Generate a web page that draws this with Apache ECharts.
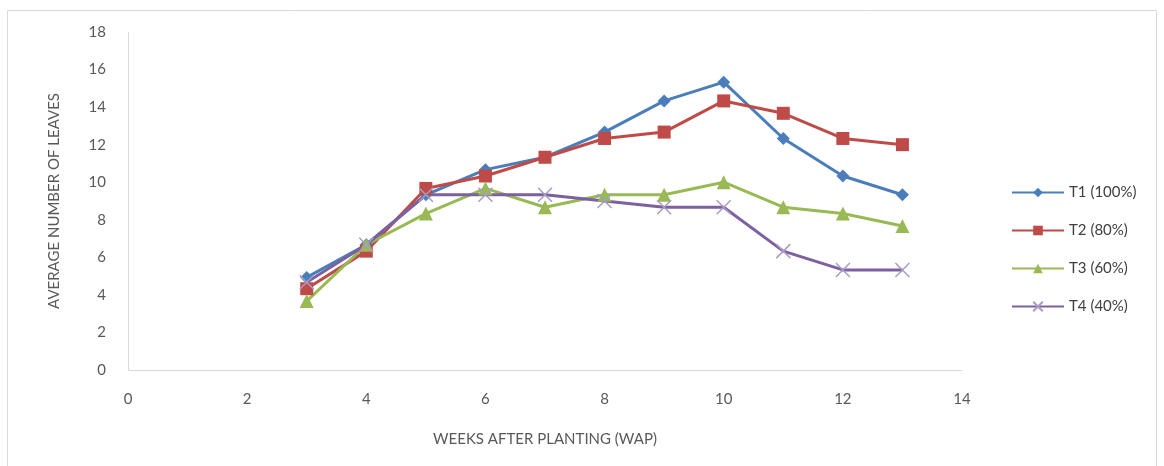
<!DOCTYPE html>
<html><head><meta charset="utf-8">
<script src="https://cdn.jsdelivr.net/npm/echarts@6/dist/echarts.min.js"></script>
<style>html,body{margin:0;padding:0;background:#fff}#c{width:1164px;height:466px}</style>
</head><body><div id="c"></div>
<script>
var weeks = [3,4,5,6,7,8,9,10,11,12,13];
var t1 = [4.93,6.67,9.33,10.67,11.33,12.67,14.33,15.33,12.33,10.33,9.33];
var t2 = [4.33,6.33,9.67,10.33,11.33,12.33,12.67,14.33,13.67,12.33,12.0];
var t3 = [3.67,6.67,8.33,9.67,8.67,9.33,9.33,10.0,8.67,8.33,7.67];
var t4 = [4.67,6.67,9.33,9.33,9.33,9.0,8.67,8.67,6.33,5.33,5.33];
var names = ['T1 (100%)','T2 (80%)','T3 (60%)','T4 (40%)'];
var xTitle = 'WEEKS AFTER PLANTING (WAP)';
var yTitle = 'AVERAGE NUMBER OF LEAVES';

function pairs(v){ return weeks.map(function(w,i){return [w,v[i]];}); }
var font = 'Lato';
var chart = echarts.init(document.getElementById('c'));
var xPath = 'path://M0,0L10,10M10,0L0,10';
chart.setOption({
  animation:false,
  backgroundColor:'#fff',
  graphic:[{type:'rect',shape:{x:7.5,y:10.5,width:1149,height:470},style:{fill:'none',stroke:'#d9d9d9',lineWidth:1}}],
  grid:{left:128,right:202,top:32,bottom:96},
  legend:{orient:'vertical',left:1006,top:180,itemWidth:52,itemHeight:12,itemGap:23,
    textStyle:{fontFamily:font,fontSize:15,color:'#404040'},data:names},
  xAxis:{type:'value',min:0,max:14,interval:2,
    axisLine:{lineStyle:{color:'#d9d9d9'}},axisTick:{show:false},splitLine:{show:false},
    axisLabel:{color:'#595959',fontFamily:font,fontSize:15,margin:22},
    name:xTitle,nameLocation:'middle',nameGap:62,nameTextStyle:{color:'#595959',fontFamily:font,fontSize:15}},
  yAxis:{type:'value',min:0,max:18,interval:2,
    axisLine:{show:true,lineStyle:{color:'#d9d9d9'}},axisTick:{show:false},splitLine:{show:false},
    axisLabel:{color:'#595959',fontFamily:font,fontSize:15,margin:22},
    name:yTitle,nameLocation:'middle',nameGap:66,nameTextStyle:{color:'#595959',fontFamily:font,fontSize:15}},
  series:[
    {name:names[0],type:'line',data:pairs(t1),symbol:'diamond',symbolSize:13,
      lineStyle:{color:'#4a7ebb',width:3},itemStyle:{color:'#4a7ebb'}},
    {name:names[1],type:'line',data:pairs(t2),symbol:'rect',symbolSize:13,
      lineStyle:{color:'#be4b48',width:3},itemStyle:{color:'#be4b48'}},
    {name:names[2],type:'line',data:pairs(t3),symbol:'triangle',symbolSize:14,
      lineStyle:{color:'#98b954',width:3},itemStyle:{color:'#98b954'}},
    {name:names[3],type:'line',data:pairs(t4),symbol:xPath,symbolSize:14,
      lineStyle:{color:'#7d60a0',width:3},itemStyle:{color:'rgba(0,0,0,0)',borderColor:'#a99bc4',borderWidth:1.5}}
  ]
});
</script></body></html>
